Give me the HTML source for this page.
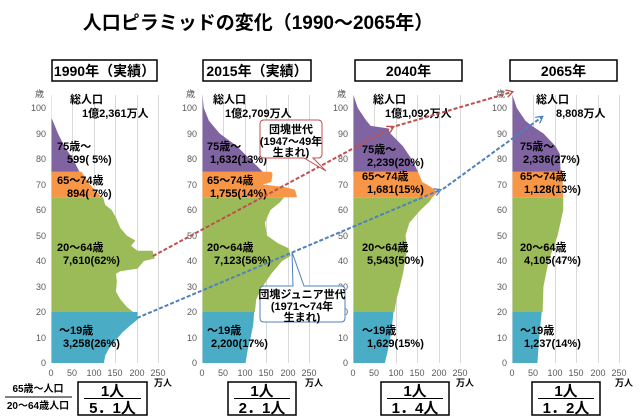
<!DOCTYPE html>
<html><head><meta charset="utf-8"><style>
body{margin:0;background:#fff}
svg{display:block;font-family:"Liberation Sans","Noto Sans CJK JP",sans-serif}
.t{font-size:11px;font-weight:bold;fill:#000}
.ax{font-size:9px;fill:#595959}
.g{stroke:#d9d9d9;stroke-width:1}
</style></head><body>
<svg width="643" height="419" viewBox="0 0 643 419" xmlns="http://www.w3.org/2000/svg">
<defs>
<marker id="ar" markerWidth="8" markerHeight="8" refX="6" refY="4" orient="auto" markerUnits="userSpaceOnUse"><path d="M0,0 L7,4 L0,8" fill="none" stroke="#c0504d" stroke-width="1.3"/></marker>
<marker id="ab" markerWidth="8" markerHeight="8" refX="6" refY="4" orient="auto" markerUnits="userSpaceOnUse"><path d="M0,0 L7,4 L0,8" fill="none" stroke="#4f81bd" stroke-width="1.3"/></marker>
</defs>
<text x="258" y="29" text-anchor="middle" font-size="19" font-weight="bold">人口ピラミッドの変化（1990～2065年）</text>

<!-- Panel template: grids -->
<g id="p1">
<rect x="52" y="60" width="105" height="21" fill="#fff" stroke="#000" stroke-width="1.5"/>
<text x="104.5" y="76" text-anchor="middle" font-size="14" font-weight="bold">1990年（実績）</text>
</g>
<rect x="203" y="60" width="108" height="21" fill="#fff" stroke="#000" stroke-width="1.5"/>
<text x="257" y="76" text-anchor="middle" font-size="14" font-weight="bold">2015年（実績）</text>
<rect x="355" y="60" width="107" height="21" fill="#fff" stroke="#000" stroke-width="1.5"/>
<text x="408.5" y="76" text-anchor="middle" font-size="14" font-weight="bold">2040年</text>
<rect x="510" y="60" width="107" height="21" fill="#fff" stroke="#000" stroke-width="1.5"/>
<text x="563.5" y="76" text-anchor="middle" font-size="14" font-weight="bold">2065年</text>

<!-- gridlines & axes for 4 panels -->
<g class="g">
<path d="M72.5,95V363M94.5,95V363M115.5,95V363M137.5,95V363M158.5,95V363"/>
<path d="M223.5,95V363M245.5,95V363M266.5,95V363M288.5,95V363M309.5,95V363"/>
<path d="M374.5,95V363M396.5,95V363M417.5,95V363M439.5,95V363M460.5,95V363"/>
<path d="M533.5,95V363M555.5,95V363M576.5,95V363M598.5,95V363M619.5,95V363"/>
<path d="M51.5,95V363M202.5,95V363M353.5,95V363M512.5,95V363" stroke="#e8e8e8"/>
</g>

<!-- pyramids -->
<g transform="translate(51.5,363) scale(0.43,-2.55)">
<polygon fill="#4bacc6" points="0,0 122,0 125,3 135,6 150,9 165,12 185,15 200,17 200,20 0,20"/>
<polygon fill="#9bbb59" points="0,20 190,20 175,22 160,25 150,28 152,32 150,35 160,36 200,37 215,40 240,41 235,44 200,44 185,46 195,48 175,50 160,53 150,57 140,60 125,62 120,65 0,65"/>
<polygon fill="#f79646" points="0,65 117,65 100,68 85,71 70,75 0,75"/>
<polygon fill="#8064a2" points="0,75 65,75 50,80 30,85 15,90 3,95 0,96"/>
</g>
<g transform="translate(202.5,363) scale(0.43,-2.55)">
<polygon fill="#4bacc6" points="0,0 100,0 105,5 112,10 118,15 120,20 0,20"/>
<polygon fill="#9bbb59" points="0,20 122,20 125,25 140,30 160,35 185,40 205,42 200,45 175,47 150,50 145,55 158,60 180,63 190,65 0,65"/>
<polygon fill="#f79646" points="0,65 220,65 215,68 190,69 140,70 160,71 163,74 160,75 0,75"/>
<polygon fill="#8064a2" points="0,75 140,75 110,80 80,85 40,90 15,95 3,100 0,105"/>
</g>
<g transform="translate(353.5,363) scale(0.43,-2.55)">
<polygon fill="#4bacc6" points="0,0 73,0 80,5 86,10 90,15 93,20 0,20"/>
<polygon fill="#9bbb59" points="0,20 95,20 100,25 108,30 115,35 120,40 125,45 121,50 130,55 156,60 175,63 184,65 0,65"/>
<polygon fill="#f79646" points="0,65 184,65 195,67 180,69 160,71 150,75 0,75"/>
<polygon fill="#8064a2" points="0,75 150,75 135,80 115,85 86,90 80,92 40,93 30,95 10,100 0,105"/>
</g>
<g transform="translate(512.5,363) scale(0.43,-2.55)">
<polygon fill="#4bacc6" points="0,0 58,0 62,10 68,20 0,20"/>
<polygon fill="#9bbb59" points="0,20 70,20 72,30 84,40 105,50 118,60 118,65 0,65"/>
<polygon fill="#f79646" points="0,65 118,65 116,75 0,75"/>
<polygon fill="#8064a2" points="0,75 112,75 110,82 100,85 72,90 45,93 30,95 10,100 0,105"/>
</g>

<!-- y axis labels -->
<g class="ax" text-anchor="end">
<text x="46" y="366">0</text><text x="46" y="341">10</text><text x="46" y="315">20</text><text x="46" y="290">30</text><text x="46" y="264">40</text><text x="46" y="239">50</text><text x="46" y="213">60</text><text x="46" y="188">70</text><text x="46" y="162">80</text><text x="46" y="137">90</text><text x="46" y="111">100</text><text x="44" y="97">歳</text>
<text x="197" y="366">0</text><text x="197" y="341">10</text><text x="197" y="315">20</text><text x="197" y="290">30</text><text x="197" y="264">40</text><text x="197" y="239">50</text><text x="197" y="213">60</text><text x="197" y="188">70</text><text x="197" y="162">80</text><text x="197" y="137">90</text><text x="197" y="111">100</text><text x="195" y="97">歳</text>
<text x="348" y="366">0</text><text x="348" y="341">10</text><text x="348" y="315">20</text><text x="348" y="290">30</text><text x="348" y="264">40</text><text x="348" y="239">50</text><text x="348" y="213">60</text><text x="348" y="188">70</text><text x="348" y="162">80</text><text x="348" y="137">90</text><text x="348" y="111">100</text><text x="346" y="97">歳</text>
<text x="507" y="366">0</text><text x="507" y="341">10</text><text x="507" y="315">20</text><text x="507" y="290">30</text><text x="507" y="264">40</text><text x="507" y="239">50</text><text x="507" y="213">60</text><text x="507" y="188">70</text><text x="507" y="162">80</text><text x="507" y="137">90</text><text x="507" y="111">100</text><text x="505" y="97">歳</text>
</g>
<!-- x axis labels -->
<g class="ax" text-anchor="middle">
<text x="51" y="376">0</text><text x="72" y="376">50</text><text x="94" y="376">100</text><text x="115" y="376">150</text><text x="137" y="376">200</text><text x="158" y="376">250</text><text x="163" y="386" font-weight="bold" fill="#000">万人</text>
<text x="202" y="376">0</text><text x="223" y="376">50</text><text x="245" y="376">100</text><text x="266" y="376">150</text><text x="288" y="376">200</text><text x="309" y="376">250</text><text x="314" y="386" font-weight="bold" fill="#000">万人</text>
<text x="353" y="376">0</text><text x="374" y="376">50</text><text x="396" y="376">100</text><text x="417" y="376">150</text><text x="439" y="376">200</text><text x="460" y="376">250</text><text x="465" y="386" font-weight="bold" fill="#000">万人</text>
<text x="512" y="376">0</text><text x="533" y="376">50</text><text x="555" y="376">100</text><text x="576" y="376">150</text><text x="598" y="376">200</text><text x="619" y="376">250</text><text x="624" y="386" font-weight="bold" fill="#000">万人</text>
</g>

<!-- labels -->
<g class="t">
<text x="70" y="103">総人口</text><text x="82" y="117">1億2,361万人</text>
<text x="57" y="150">75歳～</text><text x="67" y="163">599( 5%)</text>
<text x="57" y="184">65～74歳</text><text x="67" y="197">894( 7%)</text>
<text x="57" y="251">20～64歳</text><text x="63" y="264">7,610(62%)</text>
<text x="59" y="334">～19歳</text><text x="63" y="347">3,258(26%)</text>

<text x="213" y="103">総人口</text><text x="225" y="117">1億2,709万人</text>
<text x="207" y="150">75歳～</text><text x="210" y="163">1,632(13%)</text>
<text x="207" y="184">65～74歳</text><text x="210" y="197">1,755(14%)</text>
<text x="207" y="251">20～64歳</text><text x="214" y="264">7,123(56%)</text>
<text x="207" y="334">～19歳</text><text x="211" y="347">2,200(17%)</text>

<text x="373" y="103">総人口</text><text x="385" y="117">1億1,092万人</text>
<text x="362" y="153">75歳～</text><text x="367" y="166">2,239(20%)</text>
<text x="362" y="180">65～74歳</text><text x="367" y="193">1,681(15%)</text>
<text x="362" y="251">20～64歳</text><text x="367" y="264">5,543(50%)</text>
<text x="362" y="334">～19歳</text><text x="367" y="347">1,629(15%)</text>

<text x="536" y="103">総人口</text><text x="556" y="117">8,808万人</text>
<text x="520" y="150">75歳～</text><text x="523" y="163">2,336(27%)</text>
<text x="520" y="180">65～74歳</text><text x="524" y="193">1,128(13%)</text>
<text x="520" y="251">20～64歳</text><text x="524" y="264">4,105(47%)</text>
<text x="520" y="334">～19歳</text><text x="524" y="347">1,237(14%)</text>
</g>

<!-- arrows -->
<path d="M153,256 L393,127" stroke="#c0504d" stroke-width="2" stroke-dasharray="4,2" fill="none" marker-end="url(#ar)"/>
<path d="M396,126 L512,92" stroke="#c0504d" stroke-width="2" stroke-dasharray="4,2" fill="none" marker-end="url(#ar)"/>
<path d="M137,318 L440,190" stroke="#4f81bd" stroke-width="2" stroke-dasharray="4,2" fill="none" marker-end="url(#ab)"/>
<path d="M443,189 L542,117" stroke="#4f81bd" stroke-width="2" stroke-dasharray="4,2" fill="none" marker-end="url(#ab)"/>

<!-- callouts -->
<path d="M264,120 H318 Q322,120 322,124 V154 Q322,158 318,158 H313 L326,171 L304,158 H264 Q260,158 260,154 V124 Q260,120 264,120 Z" fill="#fff" stroke="#c0504d" stroke-width="1"/>
<g class="t" text-anchor="middle" font-size="10"><text x="291" y="133">団塊世代</text><text x="291" y="145">(1947～49年</text><text x="291" y="156">生まれ)</text></g>
<path d="M264,286 H293 L292,252 L304,286 H341 Q345,286 345,290 V318 Q345,322 341,322 H264 Q260,322 260,318 V290 Q260,286 264,286 Z" fill="#fff" stroke="#4f81bd" stroke-width="1"/>
<g class="t" text-anchor="middle" font-size="10"><text x="302" y="298">団塊ジュニア世代</text><text x="302" y="310">(1971～74年</text><text x="302" y="321">生まれ)</text></g>

<!-- ratio -->
<text x="38" y="392" text-anchor="middle" font-size="10" font-weight="bold">65歳～人口</text>
<line x1="5" y1="397" x2="72" y2="397" stroke="#000" stroke-width="1"/>
<text x="38" y="409" text-anchor="middle" font-size="10" font-weight="bold">20～64歳人口</text>
<g font-size="15" font-weight="bold" text-anchor="middle">
<rect x="78" y="382" width="69" height="33" fill="none" stroke="#000" stroke-width="1.5"/>
<line x1="84" y1="398.5" x2="141" y2="398.5" stroke="#000"/><text x="112.5" y="396">1人</text><text x="112.5" y="413">5．1人</text>
<rect x="228" y="382" width="68" height="33" fill="none" stroke="#000" stroke-width="1.5"/>
<line x1="234" y1="398.5" x2="290" y2="398.5" stroke="#000"/><text x="262" y="396">1人</text><text x="262" y="413">2．1人</text>
<rect x="381" y="382" width="68" height="33" fill="none" stroke="#000" stroke-width="1.5"/>
<line x1="387" y1="398.5" x2="443" y2="398.5" stroke="#000"/><text x="415" y="396">1人</text><text x="415" y="413">1．4人</text>
<rect x="532" y="382" width="68" height="33" fill="none" stroke="#000" stroke-width="1.5"/>
<line x1="538" y1="398.5" x2="594" y2="398.5" stroke="#000"/><text x="566" y="396">1人</text><text x="566" y="413">1．2人</text>
</g>
</svg>
</body></html>
